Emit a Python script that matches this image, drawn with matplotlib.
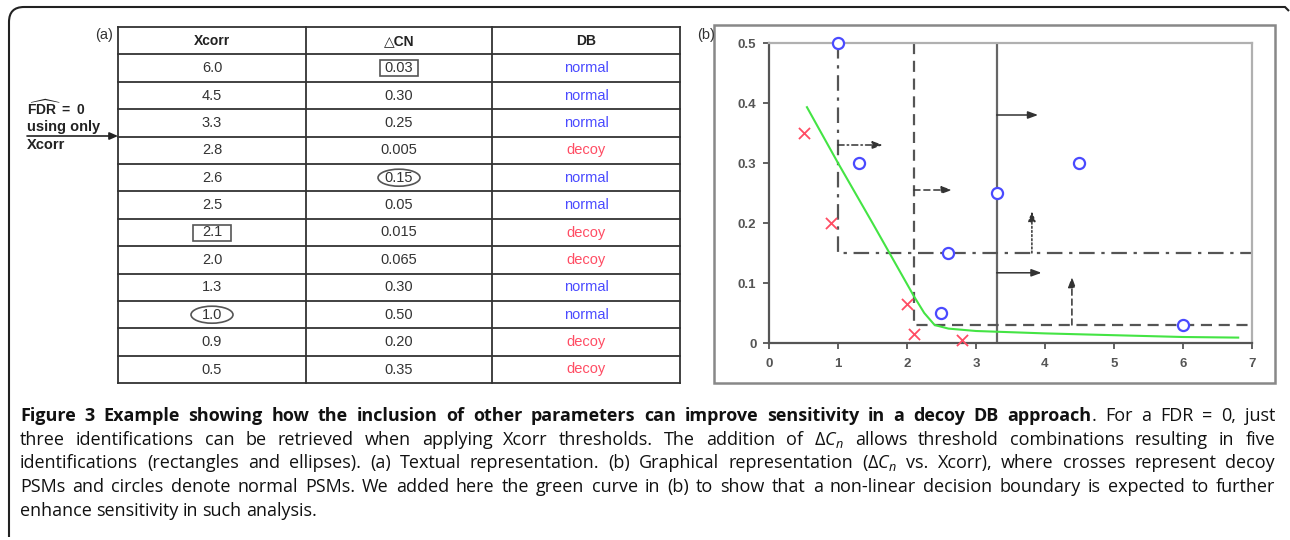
import matplotlib
matplotlib.use('Agg')
import matplotlib.pyplot as plt
from matplotlib.patches import Rectangle, Ellipse, PathPatch
from matplotlib.path import Path

# ---------------- data ----------------
xcorr = [6.0, 4.5, 3.3, 2.8, 2.6, 2.5, 2.1, 2.0, 1.3, 1.0, 0.9, 0.5]
delta_cn = [0.03, 0.30, 0.25, 0.005, 0.15, 0.05, 0.015, 0.065, 0.30, 0.50, 0.20, 0.35]
delta_cn_labels = ['0.03', '0.30', '0.25', '0.005', '0.15', '0.05', '0.015', '0.065',
                   '0.30', '0.50', '0.20', '0.35']
db = ['normal', 'normal', 'normal', 'decoy', 'normal', 'normal', 'decoy', 'decoy',
      'normal', 'normal', 'decoy', 'decoy']
headers = ['Xcorr', '\u25b3CN', 'DB']

# green decision curve
curve_x = [0.55, 1.0, 1.5, 2.1, 2.25, 2.4, 2.6, 3.0, 4.0, 5.0, 6.0, 6.8]
curve_y = [0.393, 0.30, 0.20, 0.078, 0.05, 0.03, 0.024, 0.02, 0.016, 0.013, 0.01, 0.009]

# thresholds (xcorr, dcn)
xcorr_only = 3.3
combo_dash = (2.1, 0.03)
combo_dashdot = (1.0, 0.15)

# arrows: x0, y0, x1, y1, style
arrows = [(1.0, 0.33, 1.65, 0.33, 'dashdot'),
          (2.1, 0.255, 2.65, 0.255, 'dashed'),
          (3.3, 0.38, 3.9, 0.38, 'solid'),
          (3.3, 0.117, 3.95, 0.117, 'solid'),
          (3.81, 0.15, 3.81, 0.22, 'dotted'),
          (4.39, 0.03, 4.39, 0.11, 'dashed')]

# marks in the table: (column, row, shape)
marks = [(1, 0, 'box'), (1, 4, 'ellipse'), (0, 6, 'box'), (0, 9, 'ellipse')]

caption = [
    "three identifications can be retrieved when applying Xcorr thresholds. The addition of "
    "$\\Delta{C_n}$ allows threshold combinations resulting in five",
    "identifications (rectangles and ellipses). (a) Textual representation. (b) Graphical "
    "representation ($\\Delta{C_n}$ vs. Xcorr), where crosses represent decoy",
    "PSMs and circles denote normal PSMs. We added here the green curve in (b) to show that "
    "a non-linear decision boundary is expected to further",
    "enhance sensitivity in such analysis.",
]
caption_bold = ("Figure 3 Example showing how the inclusion of other parameters can improve "
                "sensitivity in a decoy DB approach")
caption_rest = ". For a FDR = 0, just"

blue = '#4a4aff'
red = '#ff4d64'
W, H = 1290, 540

plt.rcParams['mathtext.fontset'] = 'custom'
plt.rcParams['mathtext.rm'] = 'Open Sans'
plt.rcParams['mathtext.it'] = 'Open Sans:italic'
plt.rcParams['mathtext.bf'] = 'Liberation Sans:bold'

fig = plt.figure(figsize=(W / 100, H / 100), dpi=100)
ax0 = fig.add_axes([0, 0, 1, 1])
ax0.set_xlim(0, W)
ax0.set_ylim(H, 0)
ax0.axis('off')

# outer bracket border
verts = [(9, 537), (9, 22), (9, 7), (24, 7), (1285, 7), (1289, 11)]
codes = [Path.MOVETO, Path.LINETO, Path.CURVE3, Path.CURVE3, Path.LINETO, Path.LINETO]
ax0.add_patch(PathPatch(Path(verts, codes), fill=False, lw=1.5, ec='#222'))

# ---------------- (a) table ----------------
tab_cols = [118, 306, 492, 680]
row_top, row_h = 27, 27.4
n_rows = len(xcorr) + 1
tab_bottom = row_top + n_rows * row_h
for x in tab_cols:
    ax0.plot([x, x], [row_top, tab_bottom], color='#333', lw=1.3)
for i in range(n_rows + 1):
    y = row_top + i * row_h
    ax0.plot([tab_cols[0], tab_cols[-1]], [y, y], color='#333', lw=1.3)

centers = [(tab_cols[i] + tab_cols[i + 1]) / 2 for i in range(3)]
tfont = 'Liberation Sans'
for c, h in enumerate(headers):
    ax0.text(centers[c], row_top + row_h / 2, h, ha='center', va='center',
             fontsize=10, fontweight='bold', family=[tfont, 'DejaVu Sans'], color='#222')
for r in range(len(xcorr)):
    yc = row_top + (r + 1.5) * row_h
    ax0.text(centers[0], yc, f'{xcorr[r]:.1f}', ha='center', va='center',
             fontsize=10.5, family=tfont, color='#333')
    ax0.text(centers[1], yc, delta_cn_labels[r], ha='center', va='center',
             fontsize=10.5, family=tfont, color='#333')
    ax0.text(centers[2], yc, db[r], ha='center', va='center', fontsize=10.5,
             family=tfont, color=blue if db[r] == 'normal' else red)

for c, r, shape in marks:
    yc = row_top + (r + 1.5) * row_h
    if shape == 'box':
        ax0.add_patch(Rectangle((centers[c] - 19, yc - 8), 38, 16, fill=False,
                                ec='#555', lw=1.2))
    else:
        ax0.add_patch(Ellipse((centers[c], yc), 42, 17, fill=False, ec='#555', lw=1.2))

ax0.text(113, 35, '(a)', ha='right', va='center', fontsize=10.5, family=tfont, color='#333')

# left annotation
ax0.text(27, 108, r'$\widehat{\mathbf{FDR}}\mathbf{\ =\ 0}$', ha='left', va='center',
         fontsize=10, color='#222')
ax0.text(27, 127, 'using only', ha='left', va='center', fontsize=10.5,
         fontweight='bold', family=tfont, color='#222')
ax0.text(27, 145, 'Xcorr', ha='left', va='center', fontsize=10.5,
         fontweight='bold', family=tfont, color='#222')
ax0.annotate('', xy=(118, 136), xytext=(27, 136),
             arrowprops=dict(arrowstyle='-|>,head_length=0.5,head_width=0.22',
                             color='#222', lw=1.2, shrinkA=0, shrinkB=0))

# ---------------- (b) plot ----------------
ax0.add_patch(Rectangle((714, 25), 561, 358, fill=False, ec='#888', lw=1.8))
ax0.text(697, 35, '(b)', ha='left', va='center', fontsize=10.5, family=tfont, color='#333')

ax = fig.add_axes([769 / W, 1 - 343 / H, (1252 - 769) / W, (343 - 43) / H])
ax.set_xlim(0, 7)
ax.set_ylim(0, 0.5)
ax.patch.set_alpha(0)
for s in ['left', 'bottom']:
    ax.spines[s].set_color('#555')
    ax.spines[s].set_linewidth(1.6)
for s in ['top', 'right']:
    ax.spines[s].set_color('#b0b0b0')
    ax.spines[s].set_linewidth(1.6)
ax.set_xticks(range(8))
ax.set_yticks([0, 0.1, 0.2, 0.3, 0.4, 0.5])
ax.set_yticklabels(['0', '0.1', '0.2', '0.3', '0.4', '0.5'])
ax.tick_params(direction='out', length=4, width=1.3, color='#555', labelsize=9.5,
               labelcolor='#555', top=False, right=False)
ax.tick_params(axis='x', pad=7)
ax.tick_params(axis='y', pad=5)
for lab in ax.get_xticklabels() + ax.get_yticklabels():
    lab.set_family(tfont)
    lab.set_fontweight('bold')

dash = (0, (5, 3))
dashdot = (0, (7, 3, 1.5, 3))
ax.plot([xcorr_only, xcorr_only], [0, 0.5], color='#666', lw=1.6)
ax.plot([combo_dash[0], combo_dash[0], 7], [0.5, combo_dash[1], combo_dash[1]],
        color='#555', lw=1.6, ls=dash, clip_on=False)
ax.plot([combo_dashdot[0], combo_dashdot[0], 7], [0.5, combo_dashdot[1], combo_dashdot[1]],
        color='#555', lw=1.6, ls=dashdot, clip_on=False)

ls_map = {'solid': '-', 'dashed': (0, (4, 2.5)), 'dashdot': (0, (4, 2, 1, 2)),
          'dotted': (0, (1.2, 1.5))}
for x0, y0, x1, y1, st in arrows:
    ax.annotate('', xy=(x1, y1), xytext=(x0, y0),
                arrowprops=dict(arrowstyle='-|>,head_length=0.6,head_width=0.22',
                                color='#333', lw=1.1, ls=ls_map[st], shrinkA=0, shrinkB=0))

ax.plot(curve_x, curve_y, color='#44e444', lw=1.5)

nx = [x for x, d in zip(xcorr, db) if d == 'normal']
ny = [y for y, d in zip(delta_cn, db) if d == 'normal']
dx = [x for x, d in zip(xcorr, db) if d == 'decoy']
dy = [y for y, d in zip(delta_cn, db) if d == 'decoy']
ax.scatter(nx, ny, s=64, facecolor='white', edgecolor=blue, lw=1.6, zorder=5, clip_on=False)
ax.scatter(dx, dy, s=64, marker='x', color=red, lw=1.3, zorder=5, clip_on=False)

# ---------------- caption ----------------
cfont = ['Open Sans', 'DejaVu Sans']
csize = 13
renderer = fig.canvas.get_renderer()


def draw_line(tokens, y, justify, x0=20, x1=1275):
    arts = []
    for txt, weight, glue in tokens:
        t = ax0.text(0, y, txt, ha='left', va='center', fontsize=csize,
                     fontweight=weight, family=cfont, color='#111')
        arts.append((t, glue))
    widths = [t.get_window_extent(renderer).width for t, g in arts]
    n_gaps = sum(1 for t, g in arts[1:] if not g)
    if justify and n_gaps:
        gap = (x1 - x0 - sum(widths)) / n_gaps
    else:
        gap = 4.2
    x = x0
    for (t, g), w in zip(arts, widths):
        if g:
            x -= gap
        t.set_x(x)
        x += w + gap


line_y = [416, 440, 463, 487, 511]
toks = [(w, 'bold', False) for w in caption_bold.split(' ')]
rest = caption_rest.split(' ')
toks.append((rest[0], 'normal', True))
toks += [(w, 'normal', False) for w in rest[1:]]
draw_line(toks, line_y[0], True)
for i, line in enumerate(caption):
    toks = [(w, 'normal', False) for w in line.split(' ')]
    draw_line(toks, line_y[i + 1], i < len(caption) - 1)

fig.savefig('out.png', dpi=100)
